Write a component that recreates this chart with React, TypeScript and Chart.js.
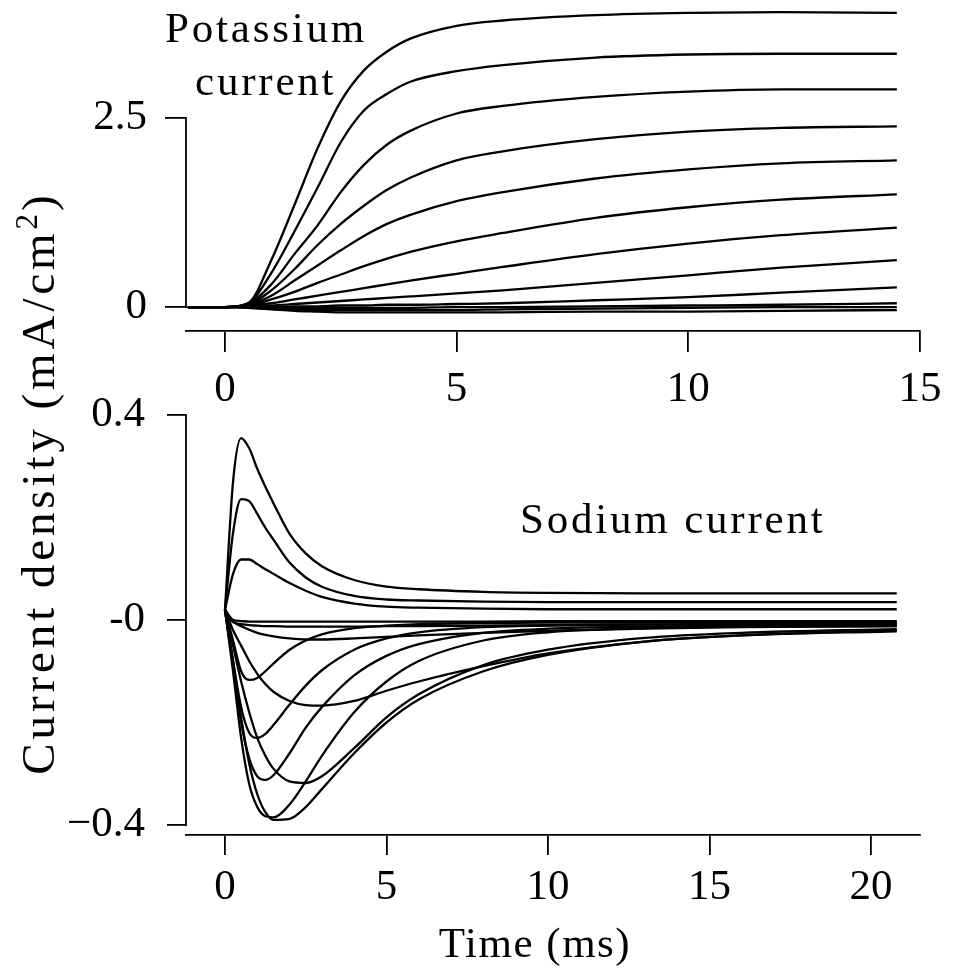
import React, { useEffect, useRef } from "react";
import { Chart, registerables } from "chart.js";

Chart.register(...registerables);

// ---------- Potassium panel data ----------
const kTimes = [-0.8, 0, 0.5, 1, 1.5, 2, 2.5, 3, 3.5, 4, 5, 6, 8, 10, 12, 14.5];
const k1 = [0, 0, 0.05, 0.62, 1.35, 2.1, 2.72, 3.13, 3.38, 3.55, 3.72, 3.79, 3.86, 3.89, 3.9, 3.89];
const k2 = [0, 0, 0.05, 0.45, 1.0, 1.58, 2.18, 2.6, 2.82, 2.98, 3.12, 3.2, 3.3, 3.34, 3.35, 3.35];
const k3 = [0, 0, 0.04, 0.3, 0.7, 1.08, 1.52, 1.88, 2.15, 2.33, 2.56, 2.66, 2.78, 2.85, 2.88, 2.88];
const k4 = [0, 0, 0.03, 0.22, 0.5, 0.82, 1.1, 1.34, 1.55, 1.71, 1.94, 2.06, 2.22, 2.32, 2.37, 2.39];
const k5 = [0, 0, 0.03, 0.15, 0.35, 0.55, 0.75, 0.94, 1.1, 1.22, 1.4, 1.52, 1.7, 1.82, 1.9, 1.94];
const k6 = [0, 0, 0.02, 0.1, 0.2, 0.32, 0.43, 0.54, 0.64, 0.73, 0.87, 0.98, 1.18, 1.32, 1.42, 1.49];
const k7 = [0, 0, 0.02, 0.05, 0.1, 0.15, 0.2, 0.25, 0.3, 0.35, 0.44, 0.53, 0.7, 0.84, 0.95, 1.05];
const k8 = [0, 0, 0.01, 0.02, 0.04, 0.06, 0.08, 0.1, 0.12, 0.14, 0.18, 0.22, 0.32, 0.42, 0.52, 0.62];
const k9 = [0, 0, 0.01, 0, 0.01, 0.01, 0.02, 0.02, 0.03, 0.03, 0.04, 0.05, 0.09, 0.13, 0.19, 0.26];
const k10 = [0, 0, 0, -0.01, -0.01, -0.01, -0.01, -0.01, -0.01, -0.01, 0, 0, 0.01, 0.02, 0.03, 0.05];
const k11 = [0, 0, 0, -0.02, -0.03, -0.04, -0.04, -0.04, -0.04, -0.04, -0.04, -0.03, -0.02, -0.01, 0, 0];
const k12 = [0, 0, -0.01, -0.03, -0.05, -0.06, -0.07, -0.07, -0.07, -0.07, -0.07, -0.07, -0.06, -0.06, -0.05, -0.04];
const kTraces = [k1, k2, k3, k4, k5, k6, k7, k8, k9, k10, k11, k12];
const kXTicks = [0, 5, 10, 15];
const kYTicks = [0, 2.5];
const kYTickLabels = ["0", "2.5"];

// ---------- Sodium panel data ----------
const naTimes = [0, 0.25, 0.5, 0.75, 1, 1.25, 1.5, 2, 2.5, 3, 4, 5, 6, 8, 10, 13, 16, 20.8];
const na1 = [0.02, 0.27, 0.355, 0.335, 0.295, 0.26, 0.228, 0.168, 0.13, 0.105, 0.078, 0.065, 0.06, 0.055, 0.053, 0.052, 0.052, 0.052];
const na2 = [0.02, 0.17, 0.236, 0.232, 0.207, 0.18, 0.157, 0.112, 0.083, 0.065, 0.047, 0.04, 0.038, 0.036, 0.035, 0.035, 0.035, 0.035];
const na3 = [0.02, 0.09, 0.118, 0.118, 0.109, 0.099, 0.09, 0.072, 0.057, 0.045, 0.032, 0.026, 0.024, 0.022, 0.021, 0.021, 0.021, 0.021];
const na4 = [0.02, 0.0, -0.002, -0.003, -0.003, -0.003, -0.003, -0.003, -0.003, -0.003, -0.003, -0.003, -0.003, -0.003, -0.002, -0.002, -0.002, -0.002];
const na5 = [0.02, -0.004, -0.008, -0.01, -0.011, -0.012, -0.012, -0.013, -0.013, -0.013, -0.013, -0.012, -0.012, -0.011, -0.01, -0.009, -0.008, -0.007];
const na6 = [0.02, -0.003, -0.012, -0.019, -0.025, -0.029, -0.032, -0.036, -0.038, -0.038, -0.036, -0.033, -0.03, -0.025, -0.021, -0.017, -0.014, -0.012];
const na7 = [0.02, -0.04, -0.1, -0.117, -0.113, -0.1, -0.085, -0.058, -0.04, -0.028, -0.016, -0.011, -0.008, -0.006, -0.005, -0.005, -0.004, -0.004];
const na8 = [0.02, -0.02, -0.05, -0.08, -0.105, -0.125, -0.14, -0.158, -0.166, -0.167, -0.158, -0.138, -0.12, -0.09, -0.065, -0.042, -0.03, -0.02];
const na9 = [0.02, -0.08, -0.17, -0.22, -0.23, -0.222, -0.205, -0.165, -0.128, -0.098, -0.058, -0.036, -0.024, -0.014, -0.011, -0.009, -0.008, -0.007];
const na10 = [0.02, -0.09, -0.2, -0.27, -0.305, -0.312, -0.303, -0.26, -0.21, -0.17, -0.108, -0.07, -0.047, -0.025, -0.017, -0.013, -0.011, -0.01];
const na11 = [0.02, -0.05, -0.12, -0.18, -0.23, -0.265, -0.29, -0.315, -0.318, -0.305, -0.25, -0.19, -0.145, -0.088, -0.058, -0.035, -0.025, -0.018];
const na12 = [0.02, -0.1, -0.23, -0.32, -0.365, -0.383, -0.385, -0.36, -0.315, -0.265, -0.18, -0.12, -0.08, -0.04, -0.024, -0.016, -0.013, -0.012];
const na13 = [0.02, -0.08, -0.19, -0.28, -0.34, -0.375, -0.39, -0.388, -0.365, -0.33, -0.26, -0.2, -0.155, -0.1, -0.068, -0.042, -0.03, -0.022];
const naTraces = [na1, na2, na3, na4, na5, na6, na7, na8, na9, na10, na11, na12, na13];
const naXTicks = [0, 5, 10, 15, 20];
const naYTicks = [-0.4, 0, 0.4];
const naYTickLabels = ["\u22120.4", "-0", "0.4"];

// ---------- Texts ----------
const kLabelLines = ["Potassium", "current"];
const naLabel = "Sodium current";
const xTitle = "Time (ms)";
const yTitleMain = "Current density (mA/cm";
const yTitleSup = "2";
const yTitleEnd = ")";

const FONT = "'Liberation Serif', 'DejaVu Serif', serif";
const FS = 43;

type PanelCfg = {
  times: number[];
  traces: number[][];
  xTicks: number[];
  yTicks: number[];
  yLabels: string[];
  xMin: number; xMax: number; yMin: number; yMax: number;
  padTop: number; padBottom: number;
  xTickLen: number; xPad: number; yTickLen: number; yPad: number;
  draw: (ctx: CanvasRenderingContext2D, chart: any) => void;
};

function makeChart(canvas: HTMLCanvasElement, p: PanelCfg) {
  const datasets = p.traces.map((tr) => ({
    data: p.times.map((t, i) => ({ x: t, y: tr[i] })),
    borderColor: "#000",
    borderWidth: 2.3,
    pointRadius: 0,
    fill: false,
    tension: 0.4,
    cubicInterpolationMode: "monotone" as const,
  }));
  const framePlugin = {
    id: "frame",
    afterDraw(chart: any) {
      const ctx = chart.ctx as CanvasRenderingContext2D;
      const y = chart.scales.y;
      const left = chart.chartArea.left;
      ctx.save();
      ctx.strokeStyle = "#000";
      ctx.lineWidth = 1.8;
      ctx.beginPath();
      ctx.moveTo(left, y.getPixelForValue(Math.min(...p.yTicks)) + 0.9);
      ctx.lineTo(left, y.getPixelForValue(Math.max(...p.yTicks)) - 0.9);
      ctx.stroke();
      ctx.fillStyle = "#000";
      p.draw(ctx, chart);
      ctx.restore();
    },
  };
  return new Chart(canvas, {
    type: "line",
    data: { datasets },
    plugins: [framePlugin],
    options: {
      animation: false,
      responsive: false,
      devicePixelRatio: 1,
      layout: { padding: { left: 0, right: 43, top: p.padTop, bottom: p.padBottom } },
      plugins: { legend: { display: false }, tooltip: { enabled: false } },
      scales: {
        x: {
          type: "linear",
          min: p.xMin,
          max: p.xMax,
          afterBuildTicks: (s: any) => {
            s.ticks = p.xTicks.map((v) => ({ value: v }));
          },
          afterFit: (s: any) => {
            s.height = 100;
            s.paddingLeft = 0;
            s.paddingRight = 0;
          },
          ticks: {
            color: "#000",
            font: { family: FONT, size: FS },
            padding: p.xPad,
            maxRotation: 0,
            autoSkip: false,
            callback: (v: any) => String(v),
          },
          grid: {
            display: true,
            drawOnChartArea: false,
            drawTicks: true,
            tickLength: p.xTickLen,
            color: "#000",
            lineWidth: 1.8,
          },
          border: { display: true, color: "#000", width: 1.8 },
        },
        y: {
          type: "linear",
          min: p.yMin,
          max: p.yMax,
          afterBuildTicks: (s: any) => {
            s.ticks = p.yTicks.map((v) => ({ value: v }));
          },
          afterFit: (s: any) => {
            s.width = 186;
            s.paddingTop = 0;
            s.paddingBottom = 0;
          },
          ticks: {
            color: "#000",
            font: { family: FONT, size: FS },
            padding: p.yPad,
            autoSkip: false,
            callback: (_v: any, i: number) => p.yLabels[i],
          },
          grid: {
            display: true,
            drawOnChartArea: false,
            drawTicks: true,
            tickLength: p.yTickLen,
            color: "#000",
            lineWidth: 1.8,
          },
          border: { display: false },
        },
      },
    } as any,
  });
}

export default function App() {
  const topRef = useRef<HTMLCanvasElement>(null);
  const botRef = useRef<HTMLCanvasElement>(null);

  useEffect(() => {
    const top = makeChart(topRef.current!, {
      times: kTimes,
      traces: kTraces,
      xTicks: kXTicks,
      yTicks: kYTicks,
      yLabels: kYTickLabels,
      xMin: -0.84, xMax: 15, yMin: -0.317, yMax: 3.995,
      padTop: 5, padBottom: 544,
      xTickLen: 21, xPad: 12, yTickLen: 21, yPad: 18,
      draw: (ctx) => {
        ctx.font = `${FS}px ${FONT}`;
        (ctx as any).letterSpacing = "2.8px";
        ctx.textAlign = "left";
        ctx.textBaseline = "alphabetic";
        ctx.fillText(kLabelLines[0], 165, 42);
        ctx.fillText(kLabelLines[1], 195, 95);
      },
    });
    const bot = makeChart(botRef.current!, {
      times: naTimes,
      traces: naTraces,
      xTicks: naXTicks,
      yTicks: naYTicks,
      yLabels: naYTickLabels,
      xMin: -1.207, xMax: 21.52, yMin: -0.4195, yMax: 0.4195,
      padTop: 405, padBottom: 40,
      xTickLen: 20, xPad: 7, yTickLen: 19, yPad: 22,
      draw: (ctx) => {
        ctx.font = `${FS}px ${FONT}`;
        (ctx as any).letterSpacing = "2.8px";
        ctx.textAlign = "left";
        ctx.textBaseline = "alphabetic";
        ctx.fillText(naLabel, 520, 533);
        (ctx as any).letterSpacing = "1.5px";
        ctx.textAlign = "center";
        ctx.fillText(xTitle, 535, 957);
        // rotated y-axis title with a real superscript
        ctx.save();
        ctx.rotate(-Math.PI / 2);
        ctx.textAlign = "left";
        ctx.textBaseline = "alphabetic";
        const mainFont = `47px ${FONT}`;
        const supFont = `31px ${FONT}`;
        ctx.font = mainFont;
        (ctx as any).letterSpacing = "3.9px";
        const wMain = ctx.measureText(yTitleMain).width;
        ctx.font = supFont;
        (ctx as any).letterSpacing = "0px";
        const wSup = ctx.measureText(yTitleSup).width;
        ctx.font = mainFont;
        const wEnd = ctx.measureText(yTitleEnd).width;
        const total = wMain + wSup + 3 + wEnd;
        const centerY = 485; // page y of centre
        const baseX = 54; // page x of baseline
        let s = -centerY - total / 2; // rotated x coordinate (= -page y)
        ctx.font = mainFont;
        (ctx as any).letterSpacing = "3.9px";
        ctx.fillText(yTitleMain, s, baseX);
        s += wMain;
        ctx.font = supFont;
        (ctx as any).letterSpacing = "0px";
        ctx.fillText(yTitleSup, s, baseX - 17);
        s += wSup + 3;
        ctx.font = mainFont;
        ctx.fillText(yTitleEnd, s, baseX);
        ctx.restore();
      },
    });
    return () => {
      top.destroy();
      bot.destroy();
    };
  }, []);

  const cs: React.CSSProperties = { position: "absolute", left: 0, top: 0 };
  return (
    <div style={{ position: "absolute", left: 0, top: 0, width: 963, height: 975, background: "#fff" }}>
      <canvas ref={topRef} width={963} height={975} style={cs} />
      <canvas ref={botRef} width={963} height={975} style={cs} />
    </div>
  );
}
